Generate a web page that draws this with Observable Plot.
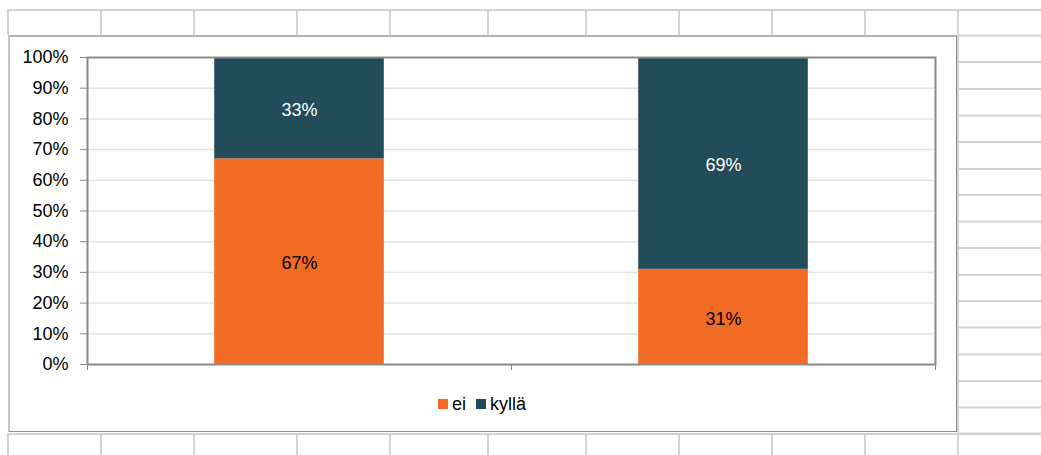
<!DOCTYPE html>
<html>
<head>
<meta charset="utf-8">
<script src="https://cdn.jsdelivr.net/npm/d3@7"></script>
<script src="https://cdn.jsdelivr.net/npm/@observablehq/plot@0.6"></script>
<style>
  body { margin: 0; background: #fff; }
  #page { position: relative; width: 1041px; height: 455px; overflow: hidden; font-family: "Liberation Sans", Arial, sans-serif; }
  #sheet { position: absolute; left: 0; top: 0; }
  #box { position: absolute; left: 8px; top: 35px; width: 949px; height: 397px; box-sizing: border-box; background: #fff;
         border-top: 2px solid #b2b2b2; border-left: 2px solid #c6c6c6; border-right: 1px solid #8c8c8c; border-bottom: 1px solid #8c8c8c; }
  #chart { position: absolute; left: 0; top: 0; }
  #legend { position: absolute; left: 8px; width: 948px; top: 395px; height: 18px; display: flex; justify-content: center; align-items: center; font-size: 18px; color: #000; }
  #legend .item { display: flex; align-items: center; margin: 0 5px; }
  #legend .sw { width: 10px; height: 10px; margin-right: 4px; display: inline-block; }
</style>
</head>
<body>
<div id="page">
  <svg id="sheet" width="1041" height="455"></svg>
  <div id="box"></div>
  <div id="chart"></div>
  <div id="legend"></div>
</div>
<script>
// ---- data ----
const categories = ["1", "2"];          // two unlabeled groups
const series = ["ei", "kyllä"];
const eiValues = [67, 31];
const kyllaValues = [33, 69];
const yTicks = [0, 10, 20, 30, 40, 50, 60, 70, 80, 90, 100];
const colors = ["#F26B24", "#234C5A"];

// ---- spreadsheet background (decoration) ----
const sheet = d3.select("#sheet");
const gridColor = "#d3d3d3";
const colX = [8, 101, 194, 297, 390, 488, 586, 679, 772, 865, 958];
const rowY = [35.5, 62, 89, 115.5, 142, 169, 195, 221.5, 248, 275, 301, 327.5, 354.5, 381, 407.5, 433.5];
function line(x1, y1, x2, y2, w) {
  sheet.append("line").attr("x1", x1).attr("y1", y1).attr("x2", x2).attr("y2", y2)
    .attr("stroke", gridColor).attr("stroke-width", w || 2);
}
line(7, 10, 1041, 10);
line(7, 434, 1041, 434);
colX.forEach(x => { line(x, 10, x, 35); line(x, 434, x, 455); });
line(958, 10, 958, 455);
rowY.forEach(y => line(958, y, 1041, y));

// ---- chart data rows ----
const rows = [];
categories.forEach((c, i) => {
  const vals = [eiValues[i], kyllaValues[i]];
  let acc = 0;
  series.forEach((s, j) => {
    rows.push({category: c, i, series: s, value: vals[j], y1: acc, y2: acc + vals[j]});
    acc += vals[j];
  });
});
const barFrac = 0.4;

const chart = Plot.plot({
  width: 1041,
  height: 455,
  marginLeft: 87,
  marginRight: 106,
  marginTop: 57,
  marginBottom: 91,
  style: {background: "transparent", fontFamily: "'Liberation Sans', Arial, sans-serif", fontSize: "18px", overflow: "visible"},
  x: {type: "linear", domain: [0, categories.length], axis: null},
  y: {domain: [0, 100], axis: null},
  color: {domain: series, range: colors},
  marks: [
    Plot.ruleY(yTicks.filter(d => d > 0 && d < 100), {stroke: "#e3e3e3", strokeWidth: 1.5}),
    Plot.rectY(rows, {
      x1: d => d.i + (1 - barFrac) / 2,
      x2: d => d.i + 1 - (1 - barFrac) / 2,
      y1: "y1", y2: "y2", fill: "series"
    }),
    Plot.text(rows.filter(d => d.series === "ei"), {
      x: d => d.i + 0.5, y: d => (d.y1 + d.y2) / 2, text: d => d.value + "%", fill: "#000", fontSize: 18, dy: 2
    }),
    Plot.text(rows.filter(d => d.series === "kyllä"), {
      x: d => d.i + 0.5, y: d => (d.y1 + d.y2) / 2, text: d => d.value + "%", fill: "#fff", fontSize: 18, dy: 2
    }),
    Plot.frame({stroke: "#8a8a8a", strokeWidth: 2}),
    Plot.axisY({ticks: yTicks, tickFormat: d => d + "%", tickSize: 7, tickPadding: 12, stroke: "#8a8a8a", fill: "#000", fontSize: 18}),
    Plot.axisX({ticks: d3.range(categories.length + 1), tickFormat: () => "", tickSize: 6, stroke: "#8a8a8a"})
  ]
});
document.getElementById("chart").appendChild(chart);

// ---- legend ----
const legend = d3.select("#legend");
series.forEach((s, j) => {
  const item = legend.append("span").attr("class", "item");
  item.append("span").attr("class", "sw").style("background", colors[j]);
  item.append("span").text(s);
});
</script>
</body>
</html>
